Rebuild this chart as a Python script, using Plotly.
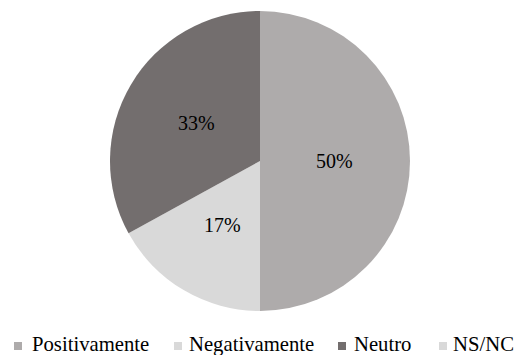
import math
import plotly.graph_objects as go

# Response categories and their shares (%)
categories = ["Positivamente", "Negativamente", "Neutro", "NS/NC"]
shares = [50, 17, 33, 0]
slice_colors = ["#aeabab", "#d9d9d9", "#736e6e", "#d9d9d9"]

W, H = 516, 355
# pie geometry in pixels
cx, cy, r = 260.0, 161.0, 148.5
dom_r = r + 1.5  # plotly trims a little off the domain

def px_x(x):
    return x / W

def px_y(y):
    return (H - y) / H

fig = go.Figure(
    go.Pie(
        labels=categories,
        values=shares,
        textinfo="none",
        sort=False,
        direction="clockwise",
        rotation=0,
        marker=dict(colors=slice_colors, line=dict(width=0)),
        domain=dict(
            x=[px_x(cx - dom_r), px_x(cx + dom_r)],
            y=[px_y(cy + dom_r), px_y(cy - dom_r)],
        ),
        hoverinfo="label+percent",
        showlegend=False,
    )
)

# percentage labels, placed on each slice's bisector at half radius
total = sum(shares)
cum = 0.0
annotations = []
for name, v in zip(categories, shares):
    if v > 0:
        mid = (cum + v / 2) / total * 2 * math.pi
        lx = cx + 0.5 * r * math.sin(mid)
        ly = cy - 0.5 * r * math.cos(mid)
        annotations.append(dict(
            x=px_x(lx), y=px_y(ly), xref="paper", yref="paper",
            text=f"{v}%", showarrow=False,
            xanchor="center", yanchor="middle",
            font=dict(family="Liberation Serif", size=20, color="#000000"),
        ))
    cum += v

# legend row: colour square followed by its category name
legend_marker_x = [14, 174, 338, 439]
legend_text_x = [30, 187, 352, 451]
legend_y = 346
shapes = []
for name, col, mx, tx in zip(categories, slice_colors, legend_marker_x, legend_text_x):
    shapes.append(dict(
        type="rect", xref="paper", yref="paper",
        x0=px_x(mx), x1=px_x(mx + 8),
        y0=px_y(legend_y + 4), y1=px_y(legend_y - 4),
        fillcolor=col, line=dict(width=0),
    ))
    annotations.append(dict(
        x=px_x(tx), y=px_y(legend_y - 2), xref="paper", yref="paper",
        text=name, showarrow=False,
        xanchor="left", yanchor="middle",
        font=dict(family="Liberation Serif", size=20.7, color="#000000"),
    ))

fig.update_layout(
    width=W,
    height=H,
    margin=dict(l=0, r=0, t=0, b=0),
    paper_bgcolor="#ffffff",
    plot_bgcolor="#ffffff",
    font=dict(family="Liberation Serif", size=20, color="#000000"),
    annotations=annotations,
    shapes=shapes,
)

fig.write_html("out.html")
